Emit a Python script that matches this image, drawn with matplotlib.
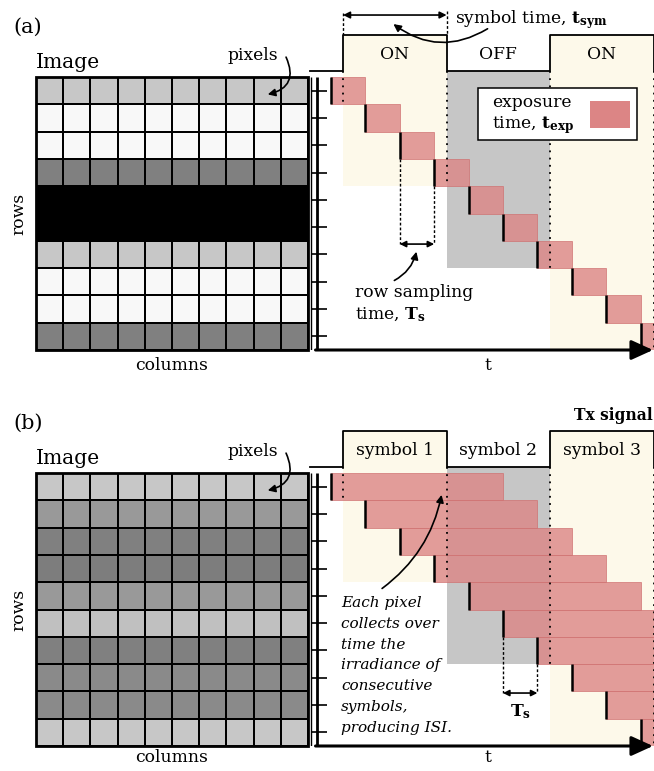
import numpy as np
import matplotlib
matplotlib.use('Agg')
import matplotlib.pyplot as plt
from matplotlib.patches import Rectangle, FancyArrowPatch

plt.rcParams['font.family'] = 'DejaVu Serif'
plt.rcParams['mathtext.fontset'] = 'dejavuserif'

# grey level of every image row (0 = black, 1 = white)
rows_a = [0.78, 0.97, 0.97, 0.50, 0.0, 0.0, 0.78, 0.97, 0.97, 0.50]
rows_b = [0.78, 0.60, 0.50, 0.49, 0.60, 0.75, 0.50, 0.54, 0.54, 0.78]
n_cols = 10

# transmitted symbols (1 = light on)
levels = [1, 0, 1]
names_a = ['ON', 'OFF', 'ON']
names_b = ['symbol 1', 'symbol 2', 'symbol 3']

# times, in units of the row sampling time Ts
t_start = 0.35
t_sym = 3.01
t_exp_a = 1.0
t_exp_b = 5.0

# layout (pixels)
W, H = 654, 771
PX_T = 34.4      # pixels per Ts
PX_ROW = 27.3    # pixels per image row
T0_PX = 331      # x pixel of t = 0

YELLOW = '#fdf9ea'
GREY = '#c6c6c6'
PINK = '#dc8585'
FS = 12.3

fig = plt.figure(figsize=(W / 100, H / 100), dpi=100)


def px_axes(x0, y0, x1, y1):
    return fig.add_axes([x0 / W, 1 - y1 / H, (x1 - x0) / W, (y1 - y0) / H])


def draw_panel(off, rows, t_exp, names, label, k_ts, row_ts, below):
    n = len(rows)
    # --- image with its pixels
    axi = px_axes(36, 77 + off, 308, 77 + off + n * PX_ROW)
    vals = np.tile(np.array(rows)[:, None], (1, n_cols))
    axi.pcolormesh(vals, cmap='gray', vmin=0, vmax=1, edgecolors='k', linewidth=1.3)
    axi.add_patch(Rectangle((0, 0), n_cols, n, fill=False, ec='k', lw=2, clip_on=False))
    axi.set_xlim(0, n_cols)
    axi.set_ylim(n, 0)
    axi.axis('off')
    axi.text(0, -0.33, 'Image', fontsize=14.6, ha='left', va='baseline')
    axi.text(-0.29, -1.83, label, fontsize=15, ha='center', va='center')
    axi.text(-0.62, n / 2, 'rows', fontsize=FS, rotation=90, ha='center', va='center')
    axi.text(n_cols / 2, n + below, 'columns', fontsize=FS, ha='center', va='center')
    axi.text(7.98, -0.78, 'pixels', fontsize=FS, ha='center', va='center')
    axi.add_patch(FancyArrowPatch((9.15, -0.82), (8.42, 0.66), connectionstyle='arc3,rad=-0.65',
                                  arrowstyle='-|>', mutation_scale=11, lw=1.2, color='k',
                                  clip_on=False))

    # --- timing diagram
    ax = px_axes(305, off, 654, 77 + off + n * PX_ROW)
    ax.set_xlim((305 - T0_PX) / PX_T, (654 - T0_PX) / PX_T)
    ax.set_ylim(n, -77 / PX_ROW)
    ax.axis('off')
    high, low = -1.54, -0.22
    bounds = t_start + t_sym * np.arange(len(levels) + 1)

    for k, lev in enumerate(levels):
        a, b = bounds[k], bounds[k + 1]
        bottom = min(np.floor(b) + 1, n)
        top = high if lev else low
        ax.add_patch(Rectangle((a, top), b - a, bottom - top, fc=YELLOW if lev else GREY,
                               ec='none', zorder=0))
        ax.text((a + b) / 2, -0.84, names[k], fontsize=FS, ha='center', va='center')

    ts = np.concatenate([[-0.61], bounds, [bounds[-1] + 1]])
    ys = [low] + [high if lev else low for lev in levels] + [low, low]
    ax.step(ts, ys, where='post', color='k', lw=1.3, zorder=5)

    for i in range(n):
        ax.add_patch(Rectangle((i, i), t_exp, 1, fc=PINK, ec='#cf7070', lw=0.6,
                               alpha=0.8, zorder=2))
        ax.plot([i, i], [i, i + 1], color='k', lw=1.8, zorder=4, solid_capstyle='butt')

    for b in bounds:
        ax.plot([b, b], [low, min(np.floor(b) + 1, n)], color='k', lw=1.3,
                ls=(0, (1, 3)), zorder=5)

    # row axis and ticks
    ax.hlines(np.arange(n) + 0.5, -0.58, -0.116, color='k', lw=1.2, zorder=5)
    ax.vlines(-0.407, 0, n + 0.05, color='k', lw=2, zorder=5)
    ax.vlines(-0.567, 0, n + 0.05, color='k', lw=1.0, zorder=5)
    ax.annotate('', xy=(9.36, n), xytext=(-0.45, n), annotation_clip=False,
                arrowprops=dict(arrowstyle='-|>,head_length=1.1,head_width=0.5', lw=2.2,
                                color='k', mutation_scale=12, shrinkA=0, shrinkB=0))
    ax.text((488 - T0_PX) / PX_T, n + below, 't', fontsize=FS, ha='center', va='center')

    # row sampling time
    ax.plot([k_ts, k_ts], [k_ts + 1, row_ts], color='k', lw=1, ls=(0, (2, 1.5)))
    ax.plot([k_ts + 1, k_ts + 1], [k_ts + 2, row_ts], color='k', lw=1, ls=(0, (2, 1.5)))
    ax.annotate('', xy=(k_ts, row_ts), xytext=(k_ts + 1, row_ts),
                arrowprops=dict(arrowstyle='<|-|>', lw=1.2, color='k', mutation_scale=9,
                                shrinkA=0, shrinkB=0))
    return ax, bounds, high


# ---------------- panel (a)
ax, bounds, high = draw_panel(0, rows_a, t_exp_a, names_a, '(a)', 2, 6.12, 0.58)
ax.plot([bounds[0]] * 2, [-2.33, high], color='k', lw=1, ls=(0, (2, 1.5)), clip_on=False)
ax.plot([bounds[1]] * 2, [-2.4, high], color='k', lw=1, ls=(0, (2, 1.5)), clip_on=False)
ax.annotate('', xy=(bounds[0], -2.27), xytext=(bounds[1], -2.27),
            arrowprops=dict(arrowstyle='<|-|>', lw=1.2, color='k', mutation_scale=10,
                            shrinkA=0, shrinkB=0))
ax.text(3.6, -2.12, r'symbol time, $\mathbf{t}_{\mathbf{sym}}$', fontsize=FS,
        ha='left', va='center')
ax.add_patch(FancyArrowPatch((4.62, -1.82), (1.75, -2.0), connectionstyle='arc3,rad=-0.35',
                             arrowstyle='-|>', mutation_scale=11, lw=1.2, color='k', zorder=6))

ax.add_patch(Rectangle((4.27, 0.40), 4.63, 1.91, fc='white', ec='k', lw=1.1, zorder=6))
ax.text(4.68, 0.95, 'exposure', fontsize=FS, ha='left', va='center', zorder=7)
ax.text(4.68, 1.76, r'time, $\mathbf{t}_{\mathbf{exp}}$', fontsize=FS, ha='left',
        va='center', zorder=7)
ax.add_patch(Rectangle((7.53, 0.88), 1.16, 0.99, fc=PINK, ec='none', zorder=7))

ax.text(0.70, 7.88, 'row sampling', fontsize=FS, ha='left', va='center')
ax.text(0.70, 8.72, r'time, $\mathbf{T_s}$', fontsize=FS, ha='left', va='center')
ax.add_patch(FancyArrowPatch((1.77, 7.5), (2.5, 6.3), connectionstyle='arc3,rad=0.25',
                             arrowstyle='-|>', mutation_scale=11, lw=1.2, color='k'))

# ---------------- panel (b)
ax, bounds, high = draw_panel(396, rows_b, t_exp_b, names_b, '(b)', 5, 8.06, 0.42)
ax.text(9.35, -2.12, 'Tx signal', fontsize=11.2, fontweight='bold', ha='right', va='center')
ax.text(5.5, 8.75, r'$\mathbf{T_s}$', fontsize=FS, ha='center', va='center')

isi = ['Each pixel', 'collects over', 'time the', 'irradiance of',
       'consecutive', 'symbols,', 'producing ISI.']
for j, line in enumerate(isi):
    ax.text(0.29, 4.76 + 0.763 * j, line, fontsize=11, style='italic',
            ha='left', va='center', zorder=8)
ax.add_patch(FancyArrowPatch((1.42, 4.29), (3.23, 0.70), connectionstyle='arc3,rad=0.2',
                             arrowstyle='-|>', mutation_scale=11, lw=1.2, color='k', zorder=8))

fig.savefig('out.png', dpi=100)
